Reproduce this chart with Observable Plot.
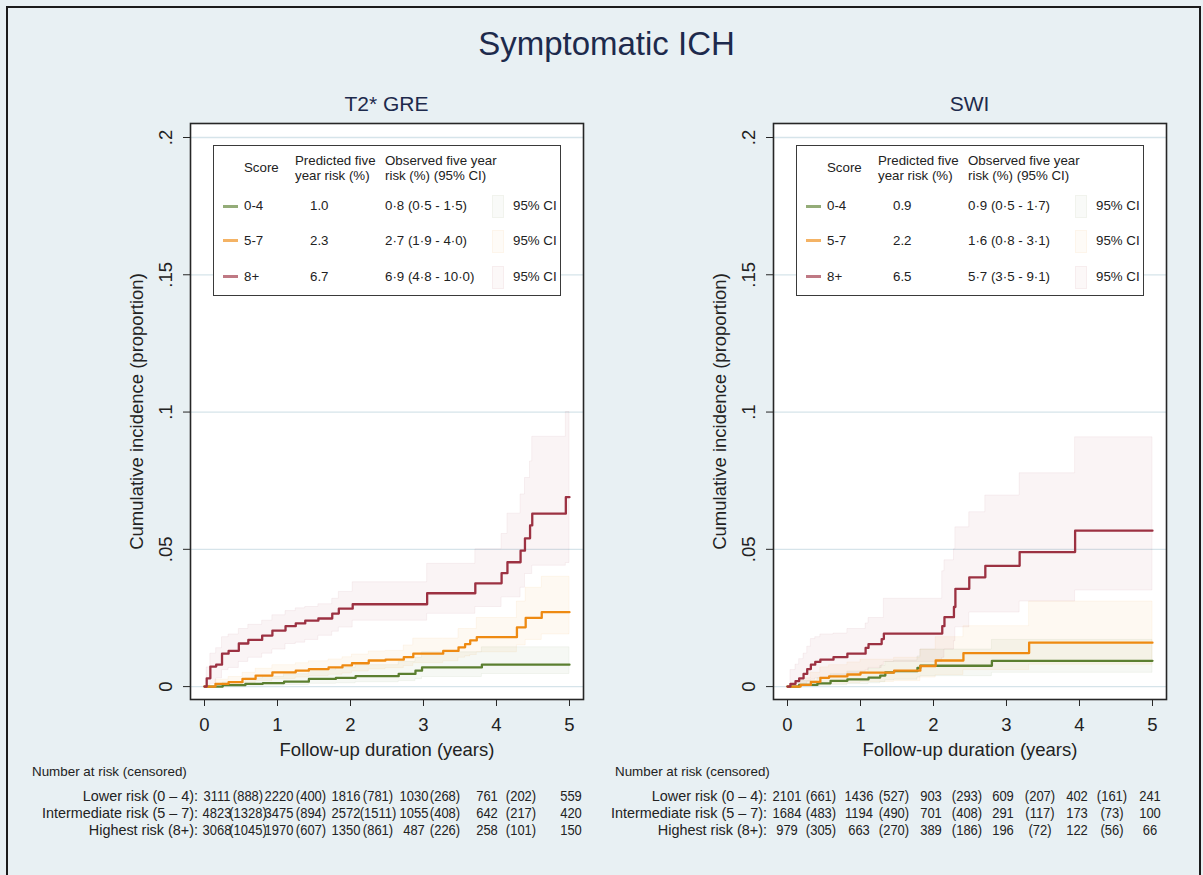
<!DOCTYPE html>
<html><head><meta charset="utf-8">
<script src="https://cdn.jsdelivr.net/npm/d3@7"></script>
<script src="https://cdn.jsdelivr.net/npm/@observablehq/plot@0.6"></script>
<style>
body{margin:0;background:#e8f0f3;font-family:"Liberation Sans",Arimo,Arial,sans-serif;}
#fig{position:relative;width:1203px;height:875px;overflow:hidden;background:#e8f0f3;color:#222;}
.abs{position:absolute;white-space:nowrap;}
</style></head><body><div id="fig"></div>
<script>
// ---------------- data ----------------
const mainTitle = "Symptomatic ICH";
const panelTitles = ["T2* GRE", "SWI"];
const groups = ["0-4", "5-7", "8+"];
const colors = ["#5b7f30", "#ee8a12", "#9c3142"];
const yTicks = [0, 0.05, 0.1, 0.15, 0.2];
const xTicks = [0, 1, 2, 3, 4, 5];
const xTitle = "Follow-up duration (years)";
const yTitle = "Cumulative incidence (proportion)";

// T2* GRE, score 0-4
const greLowT  = [0, 0.25, 0.56, 0.8, 1.09, 1.43, 1.8, 2.07, 2.66, 2.89, 2.98, 3.80, 5.0];
const greLowV  = [0, 0.0005, 0.001, 0.0013, 0.0018, 0.0028, 0.0032, 0.0038, 0.0046, 0.0058, 0.007, 0.008, 0.008];
const greLowLo = [0, 0.0001, 0.0003, 0.0004, 0.0006, 0.001, 0.0012, 0.0016, 0.002, 0.0027, 0.0035, 0.0046, 0.0046];
const greLowHi = [0, 0.0015, 0.003, 0.0035, 0.0045, 0.006, 0.0068, 0.0078, 0.009, 0.0105, 0.0125, 0.0143, 0.0143];
// T2* GRE, score 5-7
const greMidT  = [0, 0.15, 0.33, 0.52, 0.7, 0.93, 1.25, 1.43, 1.7, 1.89, 2.02, 2.25, 2.48, 2.73, 2.86, 3.27, 3.48, 3.57, 3.64, 3.73, 4.28, 4.40, 4.62, 5.0];
const greMidV  = [0, 0.001, 0.0016, 0.0028, 0.004, 0.0052, 0.0058, 0.0064, 0.007, 0.0077, 0.0085, 0.0095, 0.0098, 0.0107, 0.012, 0.013, 0.0143, 0.0155, 0.0168, 0.018, 0.0216, 0.025, 0.0271, 0.0271];
const greMidLo = [0, 0.0002, 0.0005, 0.0012, 0.002, 0.0028, 0.0033, 0.0038, 0.0043, 0.0048, 0.0055, 0.0063, 0.0067, 0.0075, 0.0085, 0.0092, 0.0105, 0.011, 0.0115, 0.0125, 0.015, 0.017, 0.019, 0.019];
const greMidHi = [0, 0.0025, 0.0035, 0.005, 0.0065, 0.0078, 0.0085, 0.0092, 0.0099, 0.0107, 0.0117, 0.0128, 0.013, 0.015, 0.0175, 0.0175, 0.021, 0.021, 0.021, 0.025, 0.031, 0.036, 0.040, 0.040];
// T2* GRE, score 8+
const greHighT  = [0, 0.03, 0.08, 0.16, 0.24, 0.33, 0.47, 0.6, 0.79, 0.93, 1.11, 1.25, 1.38, 1.56, 1.75, 1.84, 2.03, 3.05, 3.71, 4.07, 4.15, 4.33, 4.39, 4.46, 4.49, 4.95, 5.0];
const greHighV  = [0, 0.003, 0.0073, 0.008, 0.012, 0.013, 0.0157, 0.017, 0.0186, 0.0204, 0.022, 0.023, 0.024, 0.0248, 0.0266, 0.0284, 0.030, 0.034, 0.0376, 0.0413, 0.0453, 0.0495, 0.054, 0.0587, 0.063, 0.069, 0.069];
const greHighLo = [0, 0.0003, 0.001, 0.003, 0.006, 0.0068, 0.009, 0.0105, 0.012, 0.0135, 0.0155, 0.016, 0.017, 0.0185, 0.020, 0.0215, 0.024, 0.0265, 0.029, 0.0325, 0.0325, 0.036, 0.041, 0.041, 0.044, 0.045, 0.045];
const greHighHi = [0, 0.007, 0.012, 0.014, 0.018, 0.019, 0.021, 0.0225, 0.024, 0.026, 0.0275, 0.0285, 0.029, 0.030, 0.032, 0.0345, 0.038, 0.0447, 0.050, 0.0556, 0.063, 0.070, 0.076, 0.082, 0.091, 0.1, 0.1];

// SWI, score 0-4
const swiLowT  = [0, 0.16, 0.41, 0.59, 0.82, 1.11, 1.27, 1.34, 1.46, 1.78, 1.82, 2.8, 5.0];
const swiLowV  = [0, 0.0006, 0.0012, 0.0021, 0.0026, 0.0033, 0.004, 0.0052, 0.0056, 0.0068, 0.0076, 0.0094, 0.0094];
const swiLowLo = [0, 0.0001, 0.0003, 0.0006, 0.0009, 0.0012, 0.0016, 0.0023, 0.0025, 0.0033, 0.0038, 0.005, 0.005];
const swiLowHi = [0, 0.002, 0.003, 0.0045, 0.0055, 0.0065, 0.0075, 0.009, 0.0095, 0.011, 0.0135, 0.017, 0.017];
// SWI, score 5-7
const swiMidT  = [0, 0.18, 0.32, 0.45, 0.57, 0.82, 1.0, 1.46, 1.82, 2.03, 2.41, 3.31, 5.0];
const swiMidV  = [0, 0.0006, 0.0017, 0.0032, 0.0037, 0.0044, 0.0051, 0.0058, 0.0075, 0.0095, 0.0122, 0.016, 0.016];
const swiMidLo = [0, 0, 0.0002, 0.0008, 0.001, 0.0013, 0.0017, 0.002, 0.0033, 0.0042, 0.006, 0.008, 0.008];
const swiMidHi = [0, 0.003, 0.005, 0.007, 0.0078, 0.0088, 0.0098, 0.0105, 0.0135, 0.018, 0.022, 0.031, 0.031];
// SWI, score 8+
const swiHighT  = [0, 0.04, 0.11, 0.16, 0.22, 0.27, 0.32, 0.38, 0.45, 0.63, 0.82, 1.07, 1.11, 1.29, 1.32, 2.12, 2.15, 2.28, 2.30, 2.49, 2.71, 3.18, 3.94, 5.0];
const swiHighV  = [0, 0.001, 0.002, 0.003, 0.0046, 0.0064, 0.008, 0.009, 0.0098, 0.0107, 0.012, 0.0141, 0.0155, 0.0173, 0.0193, 0.022, 0.0253, 0.029, 0.0356, 0.0398, 0.044, 0.049, 0.0568, 0.0568];
const swiHighLo = [0, 0, 0.0002, 0.0005, 0.001, 0.0018, 0.0025, 0.003, 0.0035, 0.004, 0.0048, 0.006, 0.0068, 0.0078, 0.009, 0.0105, 0.0135, 0.0165, 0.0216, 0.027, 0.027, 0.031, 0.035, 0.035];
const swiHighHi = [0, 0.006, 0.008, 0.010, 0.012, 0.0145, 0.0173, 0.018, 0.019, 0.0193, 0.021, 0.023, 0.025, 0.025, 0.032, 0.042, 0.046, 0.050, 0.058, 0.0635, 0.0696, 0.0777, 0.0908, 0.0908];

// legend tables
const legendHead = ["Score", "Predicted five", "year risk (%)", "Observed five year", "risk (%) (95% CI)"];
const ciLabel = "95% CI";
const grePredicted = ["1.0", "2.3", "6.7"];
const greObserved = ["0·8 (0·5 - 1·5)", "2·7 (1·9 - 4·0)", "6·9 (4·8 - 10·0)"];
const swiPredicted = ["0.9", "2.2", "6.5"];
const swiObserved = ["0·9 (0·5 - 1·7)", "1·6 (0·8 - 3·1)", "5·7 (3·5 - 9·1)"];

// number at risk tables
const riskTitle = "Number at risk (censored)";
const riskLabels = ["Lower risk (0 – 4):", "Intermediate risk (5 – 7):", "Highest risk (8+):"];
const greAtRisk = [[3111, 2220, 1816, 1030, 761, 559], [4823, 3475, 2572, 1055, 642, 420], [3068, 1970, 1350, 487, 258, 150]];
const greCensored = [[888, 400, 781, 268, 202], [1328, 894, 1511, 408, 217], [1045, 607, 861, 226, 101]];
const swiAtRisk = [[2101, 1436, 903, 609, 402, 241], [1684, 1194, 701, 291, 173, 100], [979, 663, 389, 196, 122, 66]];
const swiCensored = [[661, 527, 293, 207, 161], [483, 490, 408, 117, 73], [305, 270, 186, 72, 56]];

// ---------------- build ----------------
const fig = document.getElementById("fig");
const FONT = '"Liberation Sans", Arimo, Arial, sans-serif';
function div(txt, css) {
  const d = document.createElement("div");
  d.className = "abs";
  d.textContent = txt;
  Object.assign(d.style, css);
  fig.appendChild(d);
  return d;
}
// outer border
div("", {left: "6px", top: "6px", width: "1191px", height: "900px", border: "2px solid #1b1b1b"});
// main title
div(mainTitle, {left: "0px", width: "1213px", textAlign: "center", top: "25px", fontSize: "33px", color: "#1d2a4c"});

const fmt = d => d === 0 ? "0" : String(d).replace(/^0/, "");

function makePanel(series, pLeft, pi) {
  const rows = [];
  series.forEach((s, gi) => s.t.forEach((t, i) => rows.push({g: groups[gi], t, v: s.v[i], lo: s.lo[i], hi: s.hi[i]})));
  const svg = Plot.plot({
    width: 493, height: 646,
    marginLeft: 90, marginRight: 10, marginTop: 10, marginBottom: 60,
    style: {background: "transparent", fontFamily: FONT, color: "#222", overflow: "visible"},
    x: {domain: [-0.192, 5.192]},
    y: {domain: [-0.0047, 0.2051]},
    color: {domain: groups, range: colors},
    marks: [
      Plot.frame({fill: "white"}),
      Plot.gridY(yTicks, {stroke: "#d6e4ea", strokeOpacity: 1, strokeWidth: 1.3}),
      Plot.areaY(rows, {x: "t", y1: "lo", y2: "hi", z: "g", fill: "g", fillOpacity: 0.055, stroke: "g", strokeOpacity: 0.06, strokeWidth: 1, curve: "step-after"}),
      Plot.line(rows, {x: "t", y: "v", z: "g", stroke: "g", strokeWidth: 2.3, curve: "step-after"}),
      Plot.frame({stroke: "#262626", strokeWidth: 1.6}),
      Plot.axisX(xTicks, {tickSize: 7, tickPadding: 11, fontSize: 18.5, stroke: "#262626", label: xTitle, labelAnchor: "center", labelArrow: "none", labelOffset: 56}),
      Plot.axisY(yTicks, {tickSize: 7, tickPadding: 12, tickRotate: -90, tickFormat: fmt, fontSize: 18.5, stroke: "#262626", label: yTitle, labelAnchor: "center", labelArrow: "none", labelOffset: 61})
    ]
  });
  svg.style.position = "absolute";
  svg.style.left = pLeft + "px";
  svg.style.top = "113px";
  fig.appendChild(svg);
  // panel title
  div(panelTitles[pi], {left: (pLeft + 90) + "px", width: "393px", textAlign: "center", top: "92px", fontSize: "21px", color: "#1d2a4c"});
}

makePanel([
  {t: greLowT, v: greLowV, lo: greLowLo, hi: greLowHi},
  {t: greMidT, v: greMidV, lo: greMidLo, hi: greMidHi},
  {t: greHighT, v: greHighV, lo: greHighLo, hi: greHighHi}
], 100, 0);
makePanel([
  {t: swiLowT, v: swiLowV, lo: swiLowLo, hi: swiLowHi},
  {t: swiMidT, v: swiMidV, lo: swiMidLo, hi: swiMidHi},
  {t: swiHighT, v: swiHighV, lo: swiHighLo, hi: swiHighHi}
], 683, 1);

// legends
function hexA(hex, a) {
  const c = d3.color(hex); c.opacity = a; return c.toString();
}
function makeLegend(bx, predicted, observed) {
  const by = 145;
  div("", {left: bx + "px", top: by + "px", width: "346px", height: "149px", border: "1.5px solid #3a3a3a", background: "white"});
  const fs = "13.3px";
  div(legendHead[0], {left: (bx + 31) + "px", top: (by + 15) + "px", fontSize: fs});
  div(legendHead[1], {left: (bx + 82) + "px", top: (by + 8) + "px", fontSize: fs});
  div(legendHead[2], {left: (bx + 82) + "px", top: (by + 23) + "px", fontSize: fs});
  div(legendHead[3], {left: (bx + 172) + "px", top: (by + 8) + "px", fontSize: fs});
  div(legendHead[4], {left: (bx + 172) + "px", top: (by + 23) + "px", fontSize: fs});
  const rowY = [61, 95.5, 131.5];
  groups.forEach((g, i) => {
    const cy = by + rowY[i];
    div("", {left: (bx + 10) + "px", top: (cy - 1.5) + "px", width: "15px", height: "3px", background: hexA(colors[i], 0.65)});
    div(g, {left: (bx + 31) + "px", top: (cy - 8) + "px", fontSize: fs});
    div(predicted[i], {left: (bx + 97) + "px", top: (cy - 8) + "px", fontSize: fs});
    div(observed[i], {left: (bx + 172) + "px", top: (cy - 8) + "px", fontSize: fs});
    div("", {left: (bx + 279) + "px", top: (cy - 11) + "px", width: "10px", height: "21px", background: hexA(colors[i], 0.035), border: "1px solid " + hexA(colors[i], 0.05)});
    div(ciLabel, {left: (bx + 300) + "px", top: (cy - 8) + "px", fontSize: fs});
  });
}
makeLegend(213, grePredicted, greObserved);
makeLegend(796, swiPredicted, swiObserved);

// number at risk
function makeRisk(titleX, labelRight, centers, atRisk, censored) {
  div(riskTitle, {left: titleX + "px", top: "764px", fontSize: "13.4px"});
  const rowY = [788, 805, 822];
  riskLabels.forEach((lab, r) => {
    div(lab, {left: (labelRight - 300) + "px", width: "300px", textAlign: "right", top: rowY[r] + "px", fontSize: "14.4px"});
    const cells = [];
    atRisk[r].forEach((n, k) => {
      cells.push(String(n));
      if (k < censored[r].length) cells.push("(" + censored[r][k] + ")");
    });
    cells.forEach((c, k) => {
      div(c, {left: (centers[k] - 40) + "px", width: "80px", textAlign: "center", top: rowY[r] + "px", fontSize: "14.4px", transform: "scaleX(0.9)"});
    });
  });
}
makeRisk(32, 198, [217, 248, 279, 311, 346, 378, 414, 445, 487, 521, 570.5], greAtRisk, greCensored);
makeRisk(615, 767, [787, 821, 859, 894, 931, 966.5, 1003, 1040, 1077, 1112, 1149.5], swiAtRisk, swiCensored);
</script></body></html>
